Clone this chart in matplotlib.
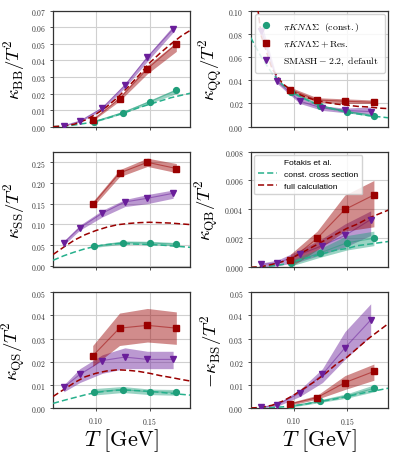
import matplotlib
matplotlib.use("Agg")
import matplotlib.pyplot as plt
from matplotlib.ticker import FormatStrFormatter, FixedLocator

plt.rcParams["mathtext.fontset"] = "cm"
plt.rcParams["font.family"] = "DejaVu Sans"

GREEN = "#1f9e7a"
RED = "#9a0000"
PURPLE = "#6a1e9a"

# temperatures of the three data sets
T_const = [0.098, 0.125, 0.150, 0.175]
T_res = [0.097, 0.122, 0.148, 0.175]
T_smash = [0.070, 0.085, 0.106, 0.127, 0.148, 0.172]

# grid for the Fotakis et al. curves
T_curve = [0.06, 0.07, 0.08, 0.09, 0.10, 0.11, 0.12, 0.13, 0.14, 0.15, 0.16, 0.17, 0.18, 0.19]

# ---- kappa_BB ----
bb_const = [0.0030, 0.0085, 0.0150, 0.0220]
bb_const_lo = [0.0025, 0.0078, 0.0140, 0.0200]
bb_const_hi = [0.0035, 0.0092, 0.0160, 0.0230]
bb_res = [0.0040, 0.0170, 0.0350, 0.0500]
bb_res_lo = [0.0035, 0.0155, 0.0320, 0.0455]
bb_res_hi = [0.0045, 0.0180, 0.0370, 0.0510]
bb_smash = [0.0005, 0.0033, 0.0113, 0.0250, 0.0420, 0.0590]
bb_smash_lo = [0.0003, 0.0028, 0.0100, 0.0235, 0.0395, 0.0570]
bb_smash_hi = [0.0008, 0.0038, 0.0120, 0.0260, 0.0430, 0.0610]
bb_fot_const = [0.0, 0.0003, 0.0010, 0.0020, 0.0033, 0.0050, 0.0070, 0.0092, 0.0115, 0.0135, 0.0155, 0.0175, 0.0190, 0.0205]
bb_fot_full = [0.0, 0.0004, 0.0015, 0.0040, 0.0075, 0.0120, 0.0175, 0.0240, 0.0310, 0.0385, 0.0445, 0.0500, 0.0550, 0.0590]

# ---- kappa_QQ ----
qq_const = [0.030, 0.018, 0.013, 0.0095]
qq_const_lo = [0.029, 0.017, 0.012, 0.0085]
qq_const_hi = [0.031, 0.019, 0.014, 0.0105]
qq_res = [0.032, 0.023, 0.022, 0.021]
qq_res_lo = [0.030, 0.021, 0.020, 0.020]
qq_res_hi = [0.034, 0.025, 0.024, 0.023]
qq_smash = [0.083, 0.039, 0.022, 0.016, 0.014, 0.013]
qq_smash_lo = [0.078, 0.037, 0.020, 0.014, 0.012, 0.011]
qq_smash_hi = [0.090, 0.041, 0.025, 0.018, 0.016, 0.017]
qq_fot_const = [0.077, 0.060, 0.046, 0.036, 0.029, 0.024, 0.020, 0.017, 0.0145, 0.0125, 0.011, 0.0095, 0.0085, 0.0075]
qq_fot_full = [0.150, 0.078, 0.050, 0.037, 0.030, 0.026, 0.023, 0.021, 0.0195, 0.0185, 0.0175, 0.017, 0.016, 0.0155]

# ---- kappa_SS ----
ss_const = [0.047, 0.056, 0.055, 0.052]
ss_const_lo = [0.044, 0.052, 0.051, 0.048]
ss_const_hi = [0.050, 0.060, 0.059, 0.056]
ss_res = [0.148, 0.224, 0.250, 0.235]
ss_res_lo = [0.142, 0.215, 0.240, 0.225]
ss_res_hi = [0.155, 0.232, 0.260, 0.247]
ss_smash = [0.055, 0.092, 0.127, 0.154, 0.163, 0.175]
ss_smash_lo = [0.050, 0.086, 0.118, 0.143, 0.150, 0.163]
ss_smash_hi = [0.060, 0.098, 0.134, 0.160, 0.172, 0.183]
ss_fot_const = [0.013, 0.024, 0.033, 0.041, 0.047, 0.051, 0.053, 0.053, 0.052, 0.051, 0.050, 0.048, 0.046, 0.044]
ss_fot_full = [0.027, 0.045, 0.062, 0.075, 0.085, 0.093, 0.099, 0.102, 0.104, 0.105, 0.104, 0.103, 0.101, 0.099]

# ---- kappa_QB ----
qb_const = [0.0003, 0.0010, 0.0017, 0.0020]
qb_const_lo = [0.0001, 0.0007, 0.0012, 0.0015]
qb_const_hi = [0.0005, 0.0013, 0.0022, 0.0025]
qb_res = [0.0005, 0.0020, 0.0040, 0.0050]
qb_res_lo = [0.0000, 0.0012, 0.0025, 0.0028]
qb_res_hi = [0.0009, 0.0025, 0.0050, 0.0060]
qb_smash = [0.0002, 0.0003, 0.0009, 0.0015, 0.0022, 0.0033]
qb_smash_lo = [0.0000, 0.0001, 0.0004, 0.0009, 0.0014, 0.0022]
qb_smash_hi = [0.0003, 0.0005, 0.0012, 0.0020, 0.0030, 0.0039]
qb_fot_const = [0.0, 0.0, 0.0001, 0.0002, 0.0004, 0.0006, 0.0008, 0.0010, 0.0012, 0.0013, 0.0015, 0.0016, 0.0017, 0.0018]
qb_fot_full = [0.0, 0.00005, 0.0002, 0.0004, 0.0007, 0.0011, 0.0015, 0.0019, 0.0023, 0.0027, 0.0030, 0.0034, 0.0037, 0.0040]

# ---- kappa_QS ----
qs_const = [0.0070, 0.0080, 0.0070, 0.0068]
qs_const_lo = [0.0056, 0.0067, 0.0058, 0.0055]
qs_const_hi = [0.0084, 0.0093, 0.0082, 0.0080]
qs_res = [0.0225, 0.0345, 0.0357, 0.0345]
qs_res_lo = [0.0180, 0.0270, 0.0285, 0.0275]
qs_res_hi = [0.0270, 0.0410, 0.0430, 0.0415]
qs_smash = [0.0090, 0.0145, 0.0205, 0.0220, 0.0210, 0.0210]
qs_smash_lo = [0.0070, 0.0110, 0.0150, 0.0170, 0.0170, 0.0170]
qs_smash_hi = [0.0100, 0.0170, 0.0230, 0.0260, 0.0245, 0.0245]
qs_fot_const = [0.0020, 0.0033, 0.0045, 0.0057, 0.0067, 0.0073, 0.0077, 0.0077, 0.0075, 0.0072, 0.0068, 0.0063, 0.0059, 0.0055]
qs_fot_full = [0.0050, 0.0080, 0.0110, 0.0135, 0.0150, 0.0160, 0.0165, 0.0163, 0.0158, 0.0150, 0.0140, 0.0132, 0.0123, 0.0115]

# ---- -kappa_BS ----
bs_const = [0.0008, 0.0030, 0.0052, 0.0085]
bs_const_lo = [0.0004, 0.0024, 0.0043, 0.0070]
bs_const_hi = [0.0012, 0.0036, 0.0062, 0.0100]
bs_res = [0.0018, 0.0045, 0.0110, 0.0158]
bs_res_lo = [0.0012, 0.0038, 0.0080, 0.0120]
bs_res_hi = [0.0024, 0.0055, 0.0140, 0.0190]
bs_smash = [0.0003, 0.0015, 0.0065, 0.0145, 0.0260, 0.0380]
bs_smash_lo = [0.0001, 0.0008, 0.0050, 0.0110, 0.0210, 0.0310]
bs_smash_hi = [0.0006, 0.0020, 0.0080, 0.0170, 0.0330, 0.0450]
bs_fot_const = [0.0, 0.0, 0.0002, 0.0005, 0.0010, 0.0016, 0.0024, 0.0032, 0.0040, 0.0050, 0.0060, 0.0070, 0.0078, 0.0087]
bs_fot_full = [0.0, 0.0003, 0.0012, 0.0030, 0.0055, 0.0085, 0.0115, 0.0150, 0.0190, 0.0220, 0.0260, 0.0300, 0.0335, 0.0370]

panels = [
    (r"$\kappa_{\rm BB}/T^2$", (0, 0.07), "%.2f",
     bb_const, bb_const_lo, bb_const_hi, bb_res, bb_res_lo, bb_res_hi,
     bb_smash, bb_smash_lo, bb_smash_hi, bb_fot_const, bb_fot_full),
    (r"$\kappa_{\rm QQ}/T^2$", (0, 0.1), "%.2f",
     qq_const, qq_const_lo, qq_const_hi, qq_res, qq_res_lo, qq_res_hi,
     qq_smash, qq_smash_lo, qq_smash_hi, qq_fot_const, qq_fot_full),
    (r"$\kappa_{\rm SS}/T^2$", (-0.004, 0.276), "%.2f",
     ss_const, ss_const_lo, ss_const_hi, ss_res, ss_res_lo, ss_res_hi,
     ss_smash, ss_smash_lo, ss_smash_hi, ss_fot_const, ss_fot_full),
    (r"$\kappa_{\rm QB}/T^2$", (0, 0.008), "%.3f",
     qb_const, qb_const_lo, qb_const_hi, qb_res, qb_res_lo, qb_res_hi,
     qb_smash, qb_smash_lo, qb_smash_hi, qb_fot_const, qb_fot_full),
    (r"$\kappa_{\rm QS}/T^2$", (0, 0.05), "%.2f",
     qs_const, qs_const_lo, qs_const_hi, qs_res, qs_res_lo, qs_res_hi,
     qs_smash, qs_smash_lo, qs_smash_hi, qs_fot_const, qs_fot_full),
    (r"$-\kappa_{\rm BS}/T^2$", (0, 0.05), "%.2f",
     bs_const, bs_const_lo, bs_const_hi, bs_res, bs_res_lo, bs_res_hi,
     bs_smash, bs_smash_lo, bs_smash_hi, bs_fot_const, bs_fot_full),
]

fig, axes = plt.subplots(3, 2, sharex=True, figsize=(3.99, 4.56), dpi=100)
fig.subplots_adjust(left=0.133, right=0.972, top=0.974, bottom=0.103, wspace=0.44, hspace=0.215)

for ax, p in zip(axes.flat, panels):
    (ylab, ylim, fmt, c, clo, chi, r, rlo, rhi, s, slo, shi, fc, ff) = p

    # bands and connecting lines
    for T, y, lo, hi, col in [(T_smash, s, slo, shi, PURPLE), (T_res, r, rlo, rhi, RED), (T_const, c, clo, chi, GREEN)]:
        ax.fill_between(T, lo, hi, color=col, alpha=0.45, lw=0, zorder=2)
        ax.plot(T, y, color=col, alpha=0.5, lw=0.8, zorder=2)

    ax.plot(T_curve, fc, color="#27b08c", ls="--", lw=1.1, dashes=(4, 2), zorder=3,
            label="const. cross section")
    ax.plot(T_curve, ff, color=RED, ls="--", lw=1.1, dashes=(4, 2), zorder=3,
            label="full calculation")

    ax.plot(T_const, c, "o", color=GREEN, ms=4.2, ls="none", zorder=4,
            label=r"$\pi K N \Lambda \Sigma\ \ {\rm (const.)}$")
    ax.plot(T_res, r, "s", color=RED, ms=4.2, ls="none", zorder=4,
            label=r"$\pi K N \Lambda \Sigma + {\rm Res.}$")
    ax.plot(T_smash, s, "v", color=PURPLE, ms=4.5, ls="none", zorder=4,
            label=r"${\rm SMASH}-2.2{\rm ,\ default}$")

    ax.set_ylim(*ylim)
    ax.set_xlim(0.06, 0.188)
    ax.set_ylabel(ylab, fontsize=13.5, labelpad=3)
    ax.yaxis.set_major_formatter(FormatStrFormatter("$" + fmt + "$"))
    ax.xaxis.set_major_locator(FixedLocator([0.10, 0.15]))
    ax.xaxis.set_major_formatter(FormatStrFormatter("$%.2f$"))
    ax.tick_params(labelsize=5.5, length=2.5, width=0.6, colors="#333333", pad=2.5)
    ax.grid(True, color="#d0d0d0", lw=0.8)
    ax.set_axisbelow(True)
    for sp in ax.spines.values():
        sp.set_color("#333333")
        sp.set_linewidth(0.9)

for ax in axes[2]:
    ax.set_xlabel(r"$T\ [\rm GeV]$", fontsize=16, labelpad=0)

# legends
h, l = axes[0, 1].get_legend_handles_labels()
leg = axes[0, 1].legend(h[2:], l[2:], loc="upper right", fontsize=7, handlelength=1.0,
                        handletextpad=1.3, borderpad=0.6, labelspacing=0.6, framealpha=0.85,
                        borderaxespad=0.3)
leg.get_frame().set_edgecolor("#cccccc")

h, l = axes[1, 1].get_legend_handles_labels()
leg = axes[1, 1].legend(h[:2], l[:2], loc="upper left", framealpha=0.85, title="Fotakis et al.",
                        prop={"family": "Liberation Sans", "size": 6},
                        title_fontproperties={"family": "Liberation Sans", "size": 6},
                        handlelength=2.3, borderpad=0.5, borderaxespad=0.4)
leg.get_frame().set_edgecolor("#cccccc")

plt.savefig("out.png", dpi=100)
